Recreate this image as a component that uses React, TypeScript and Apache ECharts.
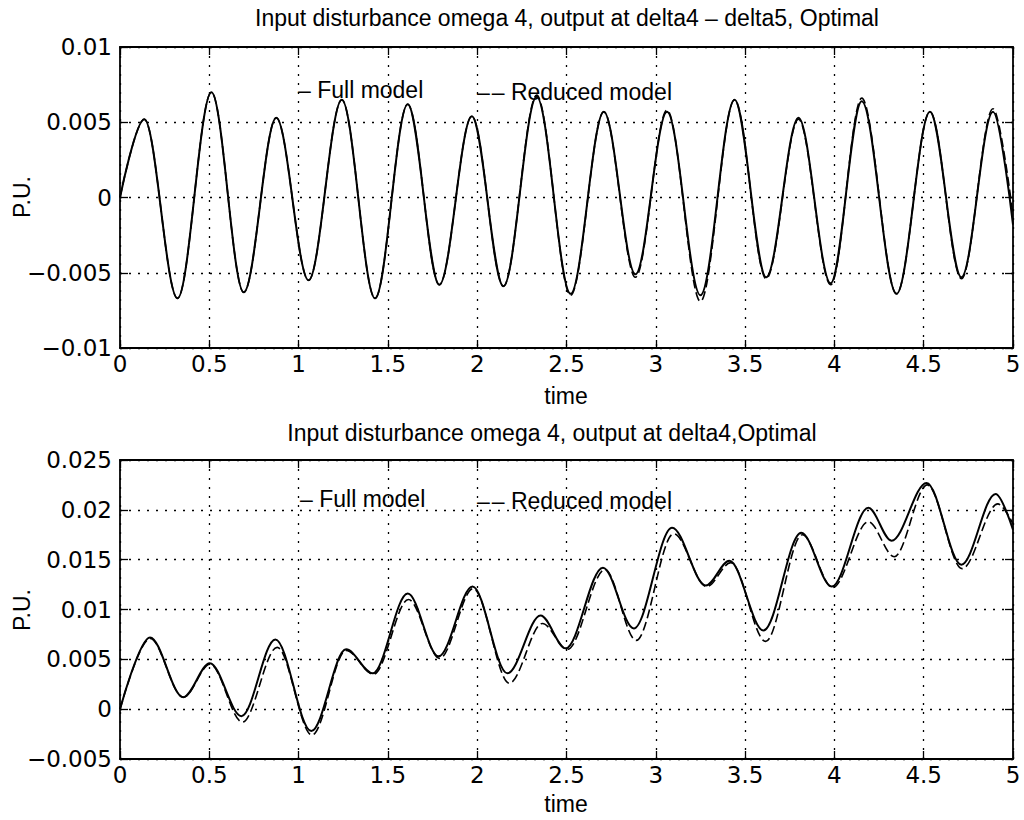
import React, { useEffect, useRef } from "react";
import * as echarts from "echarts";

// ---- data (time [s], value [P.U.]) read at local extrema ----
const xTickValues = [0, 0.5, 1, 1.5, 2, 2.5, 3, 3.5, 4, 4.5, 5];

const topFull: [number, number][] = [
  [0, 0], [0.136, 0.0052], [0.322, -0.0067], [0.512, 0.007], [0.693, -0.0063],
  [0.875, 0.0053], [1.056, -0.0055], [1.242, 0.0065], [1.428, -0.0067],
  [1.611, 0.0062], [1.788, -0.0058], [1.97, 0.0054], [2.147, -0.0059],
  [2.333, 0.0067], [2.523, -0.0064], [2.709, 0.0057], [2.886, -0.0051],
  [3.063, 0.0057], [3.25, -0.0065], [3.441, 0.0065], [3.618, -0.0053],
  [3.799, 0.0053], [3.979, -0.0057], [4.153, 0.0064], [4.348, -0.0064],
  [4.535, 0.0057], [4.711, -0.0053], [4.888, 0.0057], [5.0, -0.0018],
];

const topReduced: [number, number][] = [
  [0, 0], [0.136, 0.0052], [0.322, -0.0067], [0.512, 0.007], [0.693, -0.0063],
  [0.875, 0.0053], [1.056, -0.0055], [1.242, 0.0065], [1.428, -0.0067],
  [1.611, 0.0062], [1.788, -0.0058], [1.97, 0.0054], [2.147, -0.0059],
  [2.333, 0.0068], [2.523, -0.0065], [2.709, 0.0057], [2.886, -0.0053],
  [3.063, 0.0058], [3.25, -0.0069], [3.441, 0.0065], [3.618, -0.0054],
  [3.799, 0.0052], [3.979, -0.0058], [4.153, 0.0066], [4.348, -0.0064],
  [4.535, 0.0057], [4.711, -0.0054], [4.888, 0.0059], [5.0, -0.0012],
];

const bottomFull: [number, number][] = [
  [0, 0], [0.168, 0.0072], [0.354, 0.0012], [0.503, 0.0046], [0.68, -0.0007],
  [0.87, 0.007], [1.071, -0.0022], [1.266, 0.006], [1.415, 0.0036],
  [1.611, 0.0116], [1.784, 0.0053], [1.974, 0.0123], [2.169, 0.0036],
  [2.355, 0.0094], [2.495, 0.0061], [2.704, 0.0142], [2.877, 0.0081],
  [3.091, 0.0182], [3.28, 0.0124], [3.412, 0.0149], [3.603, 0.0079],
  [3.814, 0.0177], [3.985, 0.0123], [4.19, 0.0202], [4.32, 0.0169],
  [4.516, 0.0227], [4.711, 0.0145], [4.903, 0.0216], [5.0, 0.018],
];

const bottomReduced: [number, number][] = [
  [0, 0], [0.168, 0.0071], [0.354, 0.0012], [0.505, 0.0045], [0.685, -0.0013],
  [0.88, 0.0062], [1.075, -0.0026], [1.266, 0.0059], [1.42, 0.0035],
  [1.615, 0.011], [1.79, 0.0051], [1.978, 0.0121], [2.18, 0.0026],
  [2.365, 0.0086], [2.505, 0.006], [2.715, 0.014], [2.89, 0.0069],
  [3.1, 0.0176], [3.285, 0.0123], [3.42, 0.0147], [3.615, 0.0068],
  [3.82, 0.0175], [3.99, 0.0122], [4.19, 0.0188], [4.335, 0.0153],
  [4.52, 0.0225], [4.715, 0.0141], [4.915, 0.0206], [5.0, 0.0186],
];

const titles = [
  "Input disturbance omega 4, output at delta4 \u2013 delta5, Optimal",
  "Input disturbance omega 4, output at delta4,Optimal",
];
const legendLabels = ["\u2013 Full model", "\u2013\u200a\u2013 Reduced model"];
const xAxisName = "time";
const yAxisName = "P.U.";

const FONT = '"Liberation Sans", Arial, Helvetica, sans-serif';
const TICK_FONT = '"DejaVu Sans", "Liberation Sans", sans-serif';
const FS = 23;

const fmtY = (v: number) => {
  const r = Math.round(v * 1e6) / 1e6;
  if (r === 0) return "0";
  return (r < 0 ? "\u2212" : "") + String(Math.abs(r));
};

const axisLine = { show: true, onZero: false, lineStyle: { color: "#000", width: 1.8 } };
const axisTick = { show: true, inside: true, length: 8, lineStyle: { color: "#000", width: 1.3 } };
const gridLine = { show: true, lineStyle: { color: "#000", type: [2, 7], width: 1.3 } };

function xAx(gridIndex: number, main: boolean) {
  return {
    type: "value",
    gridIndex,
    position: main ? "bottom" : "top",
    min: xTickValues[0],
    max: xTickValues[xTickValues.length - 1],
    interval: 0.5,
    axisLine,
    axisTick,
    axisLabel: {
      show: main,
      color: "#000",
      fontSize: FS,
      fontFamily: TICK_FONT,
      margin: 4,
      formatter: (v: number) => String(Math.round(v * 100) / 100),
    },
    splitLine: main ? gridLine : { show: false },
  };
}

function yAx(gridIndex: number, main: boolean, min: number, max: number) {
  return {
    type: "value",
    gridIndex,
    position: main ? "left" : "right",
    min,
    max,
    interval: 0.005,
    axisLine,
    axisTick,
    axisLabel: {
      show: main,
      color: "#000",
      fontSize: FS,
      fontFamily: TICK_FONT,
      margin: 8,
      formatter: fmtY,
    },
    splitLine: main ? gridLine : { show: false },
  };
}

function textEl(text: string, x: number, y: number, align: string, rotation = 0) {
  return {
    type: "text",
    x,
    y,
    rotation,
    z: 100,
    style: {
      text,
      fill: "#000",
      font: `${FS}px ${FONT}`,
      fontSize: FS,
      fontFamily: FONT,
      align,
      verticalAlign: "middle",
    },
  };
}

function lineSeries(data: [number, number][], idx: number, dashed: boolean) {
  return {
    type: "line",
    xAxisIndex: idx,
    yAxisIndex: idx,
    data,
    showSymbol: false,
    symbol: "none",
    smooth: 0.34,
    smoothMonotone: "x",
    silent: true,
    lineStyle: dashed
      ? { color: "#000", width: 1.6, type: [9, 4] }
      : { color: "#000", width: 2 },
    z: dashed ? 2 : 3,
  };
}

export default function App() {
  const ref = useRef<HTMLDivElement>(null);
  useEffect(() => {
    document.body.style.margin = "0";
    const chart = echarts.init(ref.current!, null, { renderer: "svg" });
    const option: any = {
      animation: false,
      backgroundColor: "#fff",
      grid: [
        { left: 120, top: 47, width: 893, height: 301 },
        { left: 120, top: 460, width: 893, height: 299 },
      ],
      xAxis: [xAx(0, true), xAx(0, false), xAx(1, true), xAx(1, false)],
      yAxis: [
        yAx(0, true, -0.01, 0.01),
        yAx(0, false, -0.01, 0.01),
        yAx(1, true, -0.005, 0.025),
        yAx(1, false, -0.005, 0.025),
      ],
      series: [
        lineSeries(topReduced, 0, true),
        lineSeries(topFull, 0, false),
        lineSeries(bottomReduced, 2, true),
        lineSeries(bottomFull, 2, false),
      ],
      graphic: [
        textEl(titles[0], 567, 18, "center"),
        textEl(titles[1], 552, 433, "center"),
        textEl(xAxisName, 566, 396, "center"),
        textEl(xAxisName, 566, 804, "center"),
        textEl(yAxisName, 22, 197, "center", Math.PI / 2),
        textEl(yAxisName, 22, 610, "center", Math.PI / 2),
        textEl(legendLabels[0], 298, 90, "left"),
        textEl(legendLabels[1], 477, 92, "left"),
        textEl(legendLabels[0], 300, 499, "left"),
        textEl(legendLabels[1], 477, 501, "left"),
      ],
    };
    chart.setOption(option);
    return () => chart.dispose();
  }, []);
  return <div ref={ref} style={{ width: 1024, height: 820, background: "#fff" }} />;
}
